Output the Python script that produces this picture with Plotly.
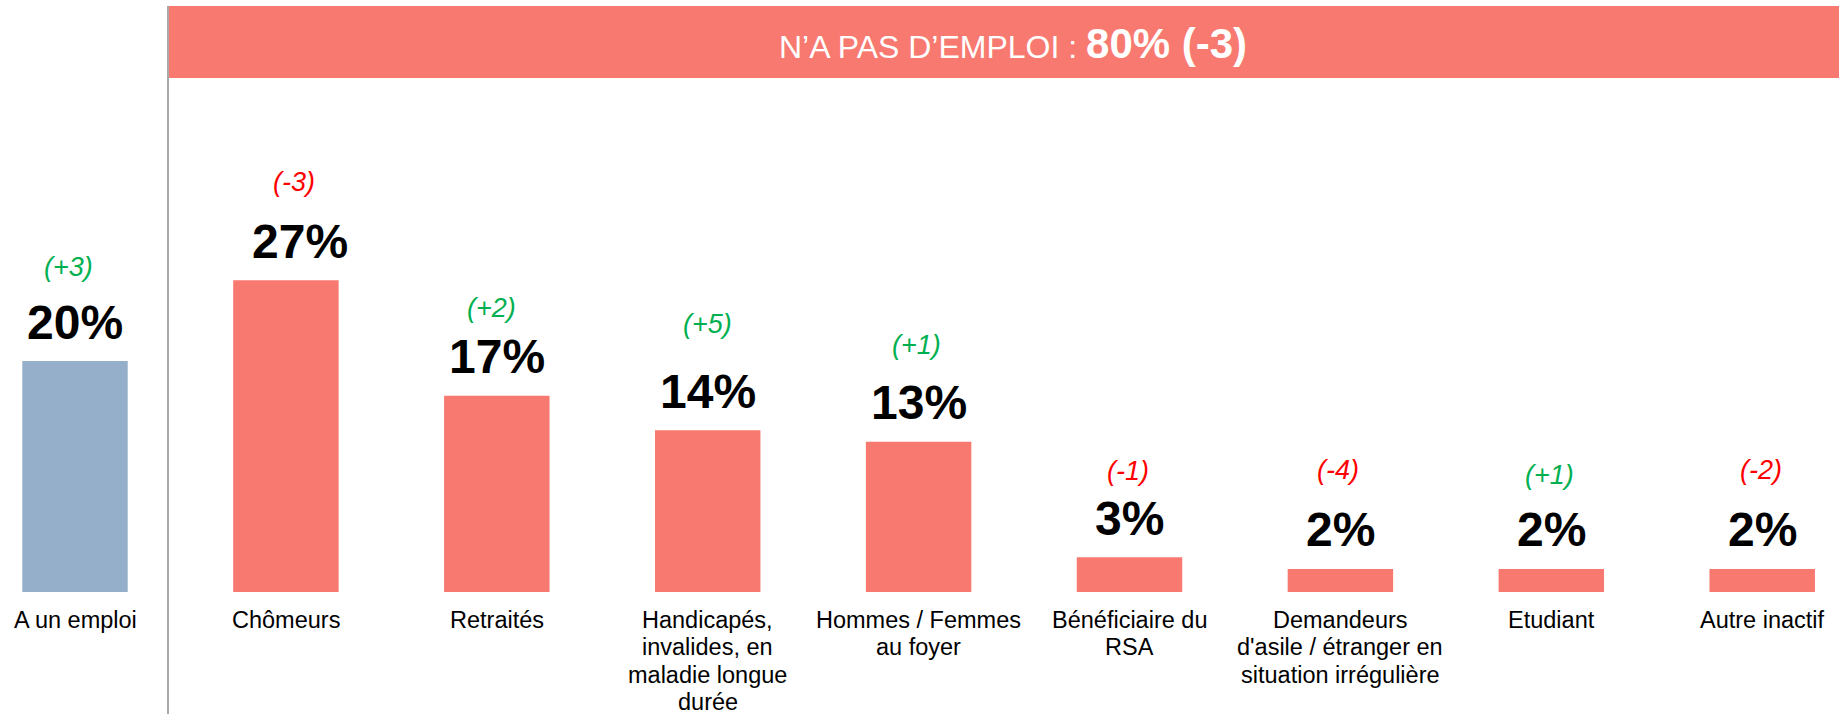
import plotly.graph_objects as go

categories = [
    "A un emploi",
    "Chômeurs",
    "Retraités",
    "Handicapés,\ninvalides, en\nmaladie longue\ndurée",
    "Hommes / Femmes\nau foyer",
    "Bénéficiaire du\nRSA",
    "Demandeurs\nd'asile / étranger en\nsituation irrégulière",
    "Etudiant",
    "Autre inactif",
]
values = [20, 27, 17, 14, 13, 3, 2, 2, 2]
deltas = [3, -3, 2, 5, 1, -1, -4, 1, -2]
group_label = "N’A PAS D’EMPLOI : "
group_value = 80
group_delta = -3

# layout tweaks (pixel offsets of the hand-placed labels in the original slide)
value_xshift = [0, 14, 0, 0, 0, 0, 0, 0, 0]
delta_xshift = [-7, 8, -5, 0, -2, -2, -2, -2, -1]
delta_yshift = [94, 98, 88, 106, 97, 86, 99, 94, 99]

W, H = 1839, 714
FONT = "Liberation Sans, Arial, sans-serif"
SALMON = "#F8796F"
BLUE = "#95AFCB"
GREEN = "#00B050"
RED = "#FF0000"

bar_colors = [BLUE] + [SALMON] * (len(values) - 1)
xs = list(range(len(values)))

fig = go.Figure()
fig.add_trace(go.Bar(
    x=xs, y=values, width=0.5,
    marker=dict(color=bar_colors, line=dict(width=0)),
    hoverinfo="skip",
))

annotations = []
for i, (v, d) in enumerate(zip(values, deltas)):
    annotations.append(dict(
        x=i, y=v, xref="x", yref="y", text=f"<b>{v}%</b>",
        showarrow=False, yanchor="middle", yshift=39, xshift=value_xshift[i],
        font=dict(family=FONT, size=48, color="#000000"),
    ))
    sign = "+" if d > 0 else ""
    annotations.append(dict(
        x=i, y=v, xref="x", yref="y", text=f"<i>({sign}{d})</i>",
        showarrow=False, yanchor="middle", yshift=delta_yshift[i], xshift=delta_xshift[i],
        font=dict(family=FONT, size=27, color=GREEN if d > 0 else RED),
    ))
    for k, line in enumerate(categories[i].split("\n")):
        annotations.append(dict(
            x=i, xref="x", yref="paper", y=1 - (620 + k * 27.3) / H,
            text=line, showarrow=False, yanchor="middle",
            font=dict(family=FONT, size=23.5, color="#000000"),
        ))

gsign = "+" if group_delta > 0 else ""
annotations.append(dict(
    x=1013 / W, y=1 - 43 / H, xref="paper", yref="paper",
    text=(f"<span style='font-size:32px'>{group_label}</span>"
          f"<b><span style='font-size:42px'>{group_value}% ({gsign}{group_delta})</span></b>"),
    showarrow=False, xanchor="center", yanchor="middle",
    font=dict(family=FONT, size=32, color="#FFFFFF"),
))

line_x = 0.441
shapes = [
    dict(type="rect", xref="x", yref="paper", x0=line_x, x1=9, y0=1 - 78 / H, y1=1 - 6 / H,
         fillcolor=SALMON, line=dict(width=0), layer="below"),
    dict(type="line", xref="x", yref="paper", x0=line_x, x1=line_x, y0=0, y1=1 - 6 / H,
         line=dict(color="#A6ADA6", width=2)),
]

px_per_unit = 11.55
baseline = 592
fig.update_layout(
    width=W, height=H,
    margin=dict(l=0, r=0, t=0, b=0),
    paper_bgcolor="#FFFFFF", plot_bgcolor="#FFFFFF",
    showlegend=False,
    xaxis=dict(range=[-75 / 210.9, (W - 75) / 210.9], showticklabels=False,
               showgrid=False, zeroline=False, showline=False, fixedrange=True),
    yaxis=dict(range=[-(H - baseline) / px_per_unit, baseline / px_per_unit],
               showticklabels=False, showgrid=False, zeroline=False, showline=False,
               fixedrange=True),
    annotations=annotations,
    shapes=shapes,
    font=dict(family=FONT),
)

fig.write_html("out.html", config={"displayModeBar": False},
               post_script="document.body.style.margin='0';document.body.style.overflow='hidden';")
